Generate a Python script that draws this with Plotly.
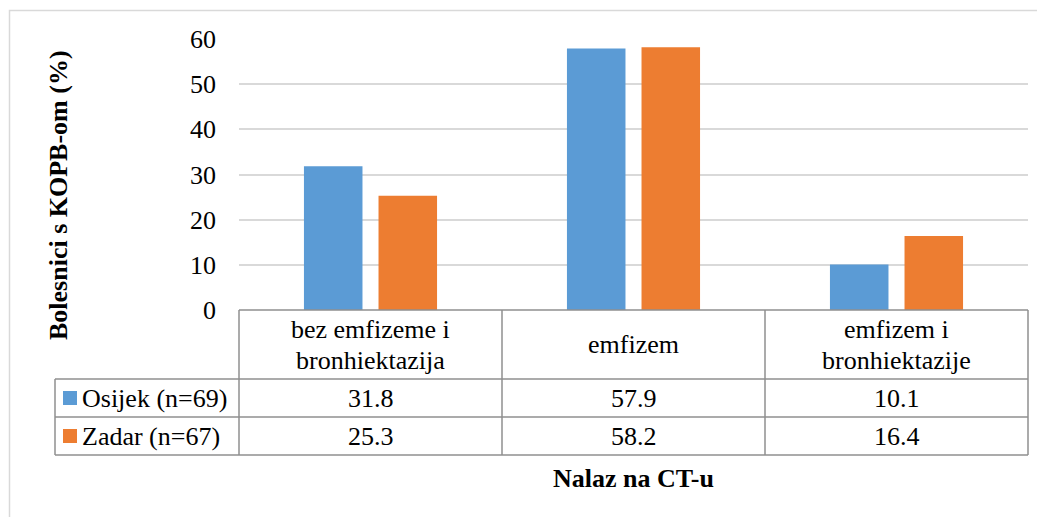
import plotly.graph_objects as go

categories = ["bez emfizeme i<br>bronhiektazija", "emfizem", "emfizem i<br>bronhiektazije"]
series_names = ["Osijek (n=69)", "Zadar (n=67)"]
osijek = [31.8, 57.9, 10.1]
zadar = [25.3, 58.2, 16.4]
colors = ["#5B9BD5", "#ED7D31"]
y_ticks = [0, 10, 20, 30, 40, 50, 60]

W, H = 1045, 517
OFF = 8  # page body margin in the viewer
def px(x):
    return (x - OFF) / W
def py(y):
    return 1 - (y - OFF) / H

FONT = "Liberation Serif"
FS = 26

fig = go.Figure()
cat_ids = list(range(len(categories)))
for name, vals, col in zip(series_names, [osijek, zadar], colors):
    fig.add_trace(go.Bar(x=cat_ids, y=vals, name=name, marker=dict(color=col, line=dict(width=0)),
                         showlegend=False, hoverinfo="y+name"))

x_left, x_right = 239, 1028
y_top, y_zero = 39, 310
fig.update_layout(
    width=W, height=H,
    margin=dict(l=0, r=0, t=0, b=0, autoexpand=False),
    paper_bgcolor="white", plot_bgcolor="white",
    barmode="group", bargap=0.433, bargroupgap=0.215,
    showlegend=False,
    font=dict(family=FONT, color="#000000", size=FS),
    xaxis=dict(domain=[px(x_left), px(x_right)], range=[-0.5, len(categories) - 0.5],
               showticklabels=False, showgrid=False, zeroline=False, showline=False,
               automargin=False, fixedrange=True),
    yaxis=dict(domain=[py(y_zero), py(y_top)], range=[0, 60], tickvals=y_ticks,
               showgrid=True, gridcolor="#D9D9D9", gridwidth=1.5, zeroline=False, showline=False,
               automargin=False, ticklabelstandoff=22, tickfont=dict(size=FS, family=FONT)),
)

shapes = []
# outer chart border
shapes.append(dict(type="rect", xref="paper", yref="paper", x0=px(9.5), y0=py(540), x1=px(1070), y1=py(10.5),
                   line=dict(color="#D9D9D9", width=1.5), fillcolor="rgba(0,0,0,0)", layer="below"))
tc = "#8F8F8F"
rows = [310, 379, 417, 455]
col_x = [x_left + (x_right - x_left) * i / len(categories) for i in range(len(categories) + 1)]
legend_left = 55
shapes.append(dict(type="line", xref="paper", yref="paper", x0=px(x_left), x1=px(x_right), y0=py(rows[0]), y1=py(rows[0]),
                   line=dict(color=tc, width=1.5)))
for r in rows[1:]:
    shapes.append(dict(type="line", xref="paper", yref="paper", x0=px(legend_left), x1=px(x_right), y0=py(r), y1=py(r),
                       line=dict(color=tc, width=1.5)))
for cx in col_x:
    shapes.append(dict(type="line", xref="paper", yref="paper", x0=px(cx), x1=px(cx), y0=py(rows[0]), y1=py(rows[3]),
                       line=dict(color=tc, width=1.5)))
shapes.append(dict(type="line", xref="paper", yref="paper", x0=px(legend_left), x1=px(legend_left), y0=py(rows[1]), y1=py(rows[3]),
                   line=dict(color=tc, width=1.5)))

annotations = []
# header cells (each line placed separately for tight line spacing)
LINE_GAP = 31
for i, c in enumerate(categories):
    cx = (col_x[i] + col_x[i + 1]) / 2
    lines = c.split("<br>")
    mid = (rows[0] + rows[1]) / 2 + 0
    n = len(lines)
    for k, ln in enumerate(lines):
        cy = mid + (k - (n - 1) / 2) * LINE_GAP
        annotations.append(dict(x=px(cx), y=py(cy), xref="paper", yref="paper", text=ln,
                                showarrow=False, font=dict(size=FS, family=FONT),
                                xanchor="center", yanchor="middle"))
# data rows with legend keys
for ri, (name, vals, col) in enumerate(zip(series_names, [osijek, zadar], colors)):
    top, bot = rows[1 + ri], rows[2 + ri]
    cy = (top + bot) / 2
    shapes.append(dict(type="rect", xref="paper", yref="paper", x0=px(63), x1=px(77), y0=py(cy + 7), y1=py(cy - 7),
                       fillcolor=col, line=dict(width=0)))
    annotations.append(dict(x=px(80), y=py(cy), xref="paper", yref="paper", text=name, showarrow=False,
                            font=dict(size=FS, family=FONT), xanchor="left", yanchor="middle"))
    for i, v in enumerate(vals):
        cx = (col_x[i] + col_x[i + 1]) / 2
        annotations.append(dict(x=px(cx), y=py(cy), xref="paper", yref="paper", text=f"{v:.1f}", showarrow=False,
                                font=dict(size=FS, family=FONT), xanchor="center", yanchor="middle"))

# axis titles
annotations.append(dict(x=px(59), y=py(195), xref="paper", yref="paper", text="<b>Bolesnici s KOPB-om (%)</b>",
                        textangle=-90, showarrow=False, font=dict(size=FS, family=FONT),
                        xanchor="center", yanchor="middle"))
annotations.append(dict(x=px((x_left + x_right) / 2), y=py(478), xref="paper", yref="paper", text="<b>Nalaz na CT-u</b>",
                        showarrow=False, font=dict(size=FS, family=FONT), xanchor="center", yanchor="middle"))

fig.update_layout(shapes=shapes, annotations=annotations)
fig.write_html("out.html")
